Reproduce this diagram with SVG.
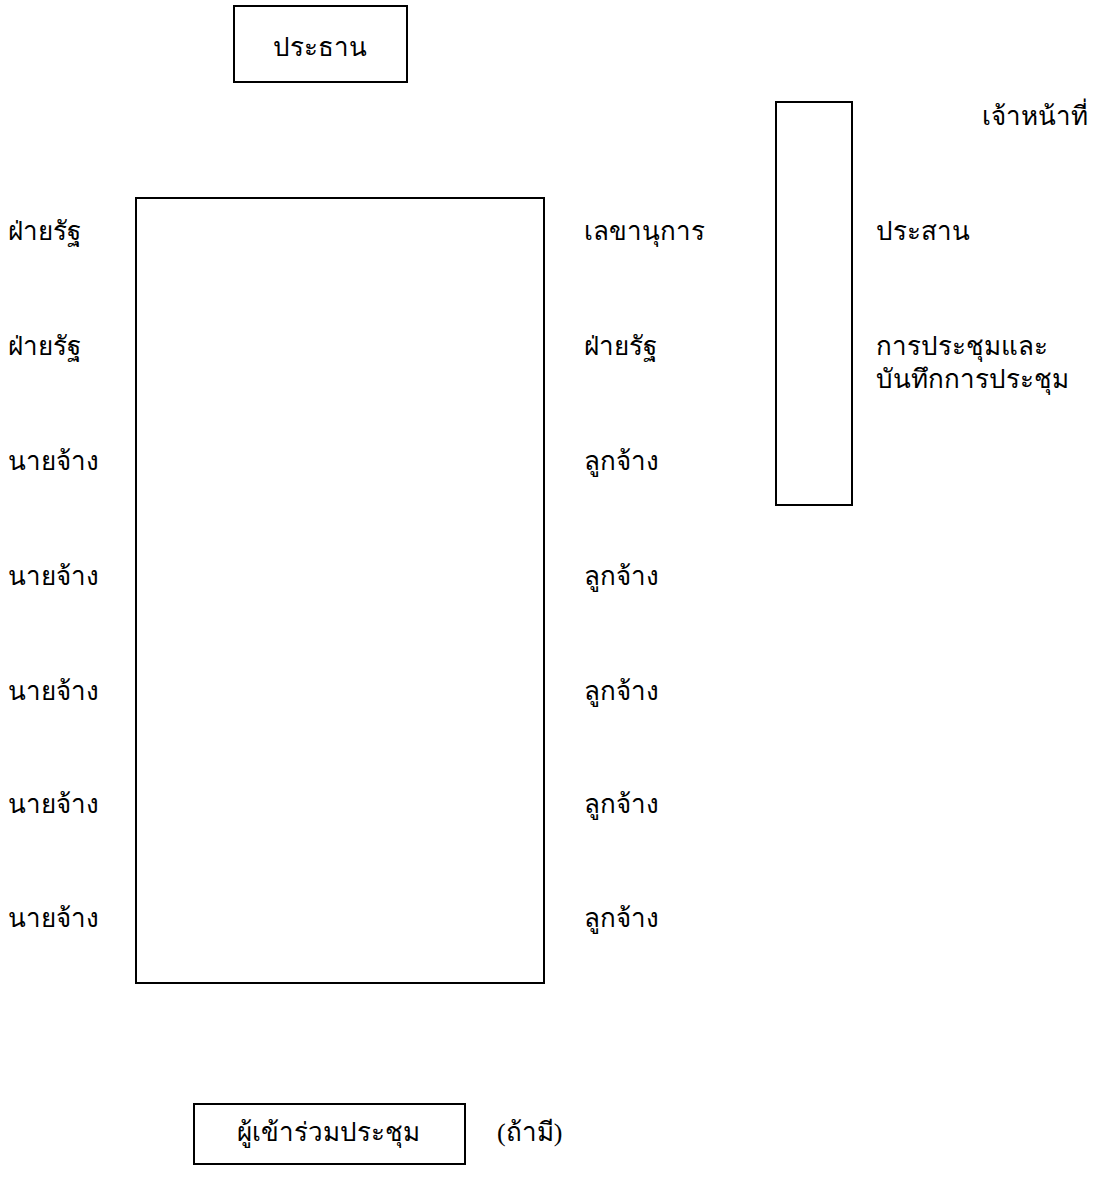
<svg xmlns="http://www.w3.org/2000/svg" width="1095" height="1193" viewBox="0 0 1095 1193">
<style>
.box{fill:none;stroke:#000;stroke-width:2}
text{font-family:"Liberation Serif","DejaVu Serif",serif;font-size:26px;fill:#000}
</style>
<rect width="1095" height="1193" fill="#fff"/>
<g id="chair"><rect class="box" x="234" y="6" width="173" height="76"/><text x="320" y="56" text-anchor="middle">ประธาน</text></g>
<g id="staff"><rect class="box" x="776" y="102" width="76" height="403"/></g>
<g id="table"><rect class="box" x="136" y="198" width="408" height="785"/></g>
<g id="attendees"><rect class="box" x="194" y="1104" width="271" height="60"/><text x="328" y="1141" text-anchor="middle">ผู้เข้าร่วมประชุม</text></g>
<g id="labels">
<text x="8" y="240">ฝ่ายรัฐ</text>
<text x="8" y="355">ฝ่ายรัฐ</text>
<text x="8" y="470">นายจ้าง</text>
<text x="8" y="585">นายจ้าง</text>
<text x="8" y="700">นายจ้าง</text>
<text x="8" y="813">นายจ้าง</text>
<text x="8" y="927">นายจ้าง</text>
<text x="584" y="240">เลขานุการ</text>
<text x="584" y="355">ฝ่ายรัฐ</text>
<text x="584" y="470">ลูกจ้าง</text>
<text x="584" y="585">ลูกจ้าง</text>
<text x="584" y="700">ลูกจ้าง</text>
<text x="584" y="813">ลูกจ้าง</text>
<text x="584" y="927">ลูกจ้าง</text>
<text x="1088" y="125" text-anchor="end">เจ้าหน้าที่</text>
<text x="876" y="240">ประสาน</text>
<text x="876" y="355">การประชุมและ</text>
<text x="876" y="388">บันทึกการประชุม</text>
<text x="497" y="1141">(ถ้ามี)</text>
</g>
<g id="connectors"></g>
</svg>
